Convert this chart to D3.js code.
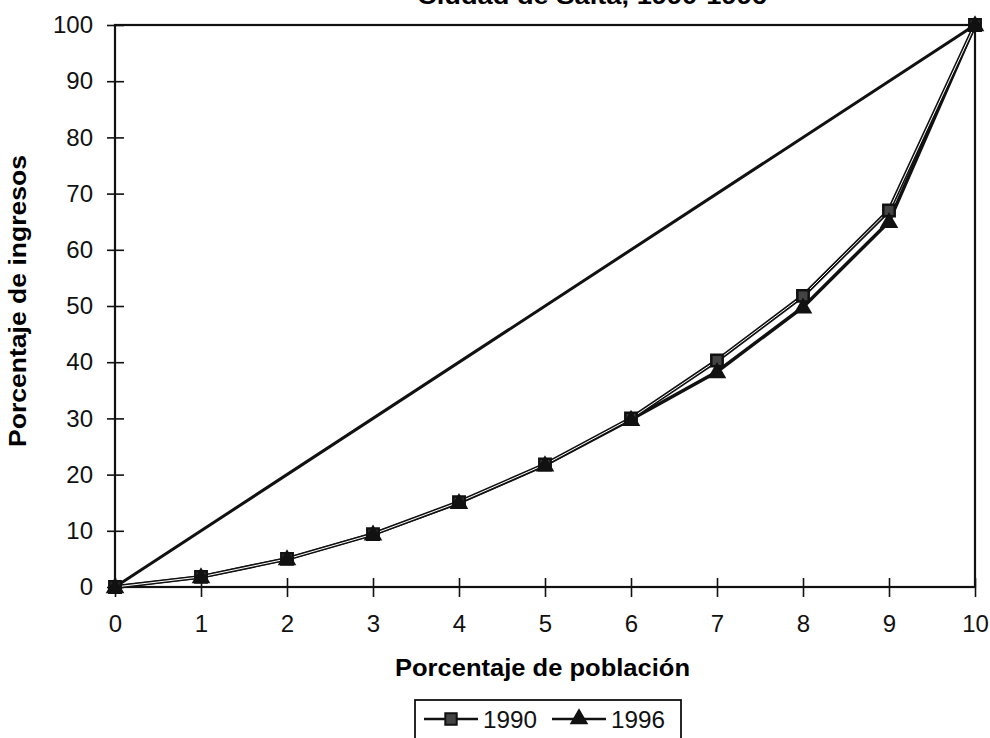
<!DOCTYPE html>
<html>
<head>
<meta charset="utf-8">
<script src="https://cdn.jsdelivr.net/npm/d3@7"></script>
<style>
  body { margin: 0; background: #fff; }
  svg { font-family: "Liberation Sans", Arial, sans-serif; }
</style>
</head>
<body>
<div id="chart"></div>
<script>
'use strict'

// Curva de Lorenz, Ciudad de Salta
let deciles = [0, 1, 2, 3, 4, 5, 6, 7, 8, 9, 10]
let ingresos1990 = [0, 1.8, 5, 9.4, 15.1, 21.8, 30, 40.3, 51.8, 67, 100]
let ingresos1996 = [0, 1.8, 5, 9.4, 15, 21.7, 29.8, 38.3, 49.8, 65, 100]
let igualdad = [0, 100]
let yTicks = [0, 10, 20, 30, 40, 50, 60, 70, 80, 90, 100]
let xTicks = [0, 1, 2, 3, 4, 5, 6, 7, 8, 9, 10]
let serieNames = ["1990", "1996"]

let width = 990
let height = 738
let padding = {left: 115, right: 15, top: 25, bottom: 151}

let svg = d3.select("#chart").append("svg")
	.attr("width", width)
	.attr("height", height)

let xScale = d3.scaleLinear().domain([0, 10]).range([padding.left, width - padding.right])
let yScale = d3.scaleLinear().domain([0, 100]).range([height - padding.bottom, padding.top])

// titulo (cortado arriba en el original)
svg.append("text")
	.attr("x", 417).attr("y", 4)
	.attr("textLength", 350).attr("lengthAdjust", "spacingAndGlyphs")
	.style("font-size", "24px").style("font-weight", "bold")
	.text("Ciudad de Salta, 1990-1996")

// marco del area de grafico
svg.append("rect")
	.attr("x", xScale(0)).attr("y", yScale(100))
	.attr("width", xScale(10) - xScale(0))
	.attr("height", yScale(0) - yScale(100))
	.attr("fill", "none").attr("stroke", "#111").attr("stroke-width", 2.2)

let yAxis = svg.append("g")
	.attr("transform", "translate(" + xScale(0) + ",0)")
	.call(d3.axisLeft(yScale).tickValues(yTicks).tickSizeInner(-9).tickSizeOuter(0).tickPadding(22))
let xAxis = svg.append("g")
	.attr("transform", "translate(0," + yScale(0) + ")")
	.call(d3.axisBottom(xScale).tickValues(xTicks).tickSizeInner(-9).tickSizeOuter(0).tickPadding(28))

// ticks que cruzan el eje
yAxis.selectAll(".tick").append("line").attr("x2", -8)
xAxis.selectAll(".tick").append("line").attr("y2", 10)
svg.selectAll(".domain").remove()
svg.selectAll(".tick line").attr("stroke", "#111").attr("stroke-width", 1.6)
svg.selectAll(".tick text").attr("fill", "#111").style("font-size", "24px")

svg.append("text")
	.attr("x", 395).attr("y", 676)
	.attr("textLength", 295).attr("lengthAdjust", "spacingAndGlyphs")
	.style("font-size", "23px").style("font-weight", "bold")
	.text("Porcentaje de población")

svg.append("text")
	.attr("transform", "translate(26,447) rotate(-90)")
	.attr("textLength", 292).attr("lengthAdjust", "spacingAndGlyphs")
	.style("font-size", "23px").style("font-weight", "bold")
	.text("Porcentaje de ingresos")

// linea de igualdad
svg.append("line")
	.attr("x1", xScale(0)).attr("y1", yScale(igualdad[0]))
	.attr("x2", xScale(10)).attr("y2", yScale(igualdad[1]))
	.attr("stroke", "#111").attr("stroke-width", 3)

let line = d3.line()
	.x(function(d, i){ return xScale(deciles[i]) })
	.y(function(d){ return yScale(d) })

svg.append("path").datum(ingresos1996).attr("d", line)
	.attr("fill", "none").attr("stroke", "#111").attr("stroke-width", 3.5)
svg.append("path").datum(ingresos1990).attr("d", line)
	.attr("fill", "none").attr("stroke", "#111").attr("stroke-width", 4)
svg.append("path").datum(ingresos1990).attr("d", line)
	.attr("fill", "none").attr("stroke", "#fff").attr("stroke-width", 1)

let squareSym = d3.symbol().type(d3.symbolSquare).size(130)
let triSym = d3.symbol().type(d3.symbolTriangle).size(150)

svg.selectAll(".m1990").data(ingresos1990).enter().append("path")
	.attr("class", "m1990")
	.attr("transform", function(d, i){ return "translate(" + xScale(deciles[i]) + "," + yScale(d) + ")" })
	.attr("d", squareSym)
	.attr("fill", "#444").attr("stroke", "#111").attr("stroke-width", 2.5)
svg.selectAll(".m1996").data(ingresos1996).enter().append("path")
	.attr("class", "m1996")
	.attr("transform", function(d, i){ return "translate(" + xScale(deciles[i]) + "," + (yScale(d) + 1) + ")" })
	.attr("d", triSym)
	.attr("fill", "#111")

// leyenda
let legend = svg.append("g")
legend.append("rect")
	.attr("x", 415).attr("y", 700).attr("width", 266).attr("height", 50)
	.attr("fill", "#fff").attr("stroke", "#111").attr("stroke-width", 1.8)

let items = [
	{name: serieNames[0], x0: 424, sym: squareSym, fill: "#444", stroke: "#111"},
	{name: serieNames[1], x0: 552, sym: triSym, fill: "#111", stroke: "none"}
]
items.forEach(function(it){
	legend.append("line")
		.attr("x1", it.x0).attr("x2", it.x0 + 54)
		.attr("y1", 719).attr("y2", 719)
		.attr("stroke", "#111").attr("stroke-width", 2.5)
	legend.append("path")
		.attr("transform", "translate(" + (it.x0 + 27) + ",719)")
		.attr("d", it.sym)
		.attr("fill", it.fill).attr("stroke", it.stroke).attr("stroke-width", 2)
	legend.append("text")
		.attr("x", it.x0 + 59).attr("y", 728)
		.attr("textLength", 54).attr("lengthAdjust", "spacingAndGlyphs")
		.style("font-size", "24px").attr("fill", "#111")
		.text(it.name)
})
</script>
</body>
</html>
